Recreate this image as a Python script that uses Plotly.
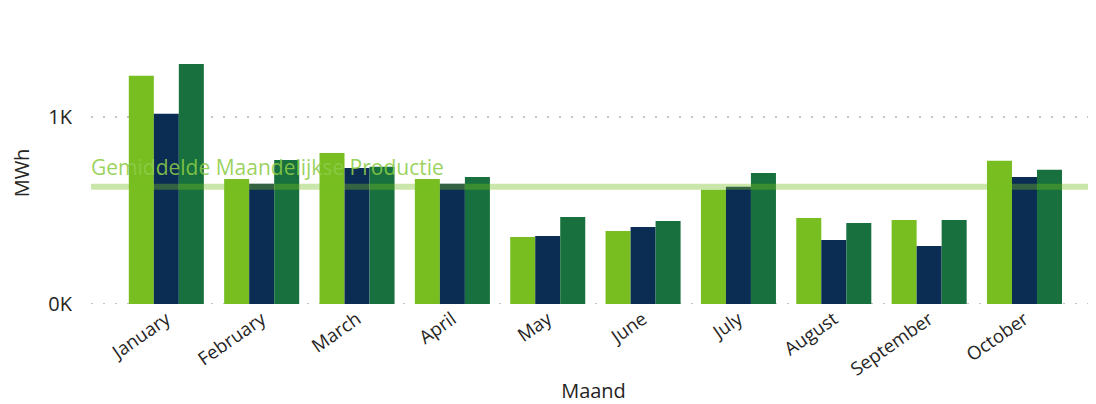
import plotly.graph_objects as go

months = ["January", "February", "March", "April", "May", "June",
          "July", "August", "September", "October"]
series_names = ["2022", "2023", "2024"]
series_a = [1219, 668, 807, 668, 358, 390, 610, 460, 449, 765]
series_b = [1016, 642, 727, 642, 364, 412, 626, 342, 310, 679]
series_c = [1283, 770, 733, 679, 465, 444, 700, 433, 449, 717]
average_value = 626
average_label = "Gemiddelde Maandelijkse Productie"
y_tick_vals = [0, 1000]
y_tick_text = ["0K", "1K"]

colors = ["#78BE21", "#0B2D54", "#17703D"]
FONT = "Open Sans"
TXT = "#252423"
GRID = "#c4c4c4"
DOTS = "2px,10px"

fig = go.Figure()
for name, vals, col in zip(series_names, [series_a, series_b, series_c], colors):
    fig.add_trace(go.Bar(x=months, y=vals, name=name, marker=dict(color=col, line=dict(width=0))))

# dotted baseline at 0 (plotly skips the gridline on the axis edge)
fig.add_shape(type="line", xref="paper", yref="y", x0=0, x1=1, y0=y_tick_vals[0], y1=y_tick_vals[0],
              line=dict(color=GRID, width=2, dash=DOTS), layer="below")
fig.add_shape(type="line", xref="paper", yref="y", x0=0, x1=1,
              y0=average_value, y1=average_value,
              line=dict(color="rgba(118,188,33,0.38)", width=6), layer="above")
fig.add_annotation(xref="paper", yref="y", x=0, y=average_value, xanchor="left", yanchor="bottom",
                   yshift=4, xshift=-2, text=average_label, showarrow=False,
                   font=dict(family=FONT, size=21, color="rgba(140,204,72,0.88)"))

# the page body adds 8px margin; compensate so the chart fills 1096x404
fig.update_layout(
    width=1088, height=396,
    margin=dict(l=83, r=0, t=34, b=100),
    paper_bgcolor="white", plot_bgcolor="white",
    barmode="group", bargap=0.213, bargroupgap=0,
    showlegend=False,
    font=dict(family=FONT, color=TXT),
)
fig.update_xaxes(range=[-0.79, 9.75], tickangle=-35, showgrid=False, showline=False, ticks="",
                 automargin=False,
                 tickfont=dict(family=FONT, size=18.5, color=TXT),
                 title=dict(text="Maand", font=dict(family=FONT, size=20, color=TXT), standoff=17))
fig.update_yaxes(range=[0, 1400], tickvals=y_tick_vals, ticktext=y_tick_text,
                 showgrid=True, gridcolor=GRID, gridwidth=2, griddash=DOTS,
                 zeroline=False, showline=False, ticks="", automargin=False,
                 ticklabelstandoff=18,
                 tickfont=dict(family=FONT, size=20, color=TXT),
                 title=dict(text="MWh", font=dict(family=FONT, size=20, color=TXT), standoff=18))

fig.write_html("out.html")
